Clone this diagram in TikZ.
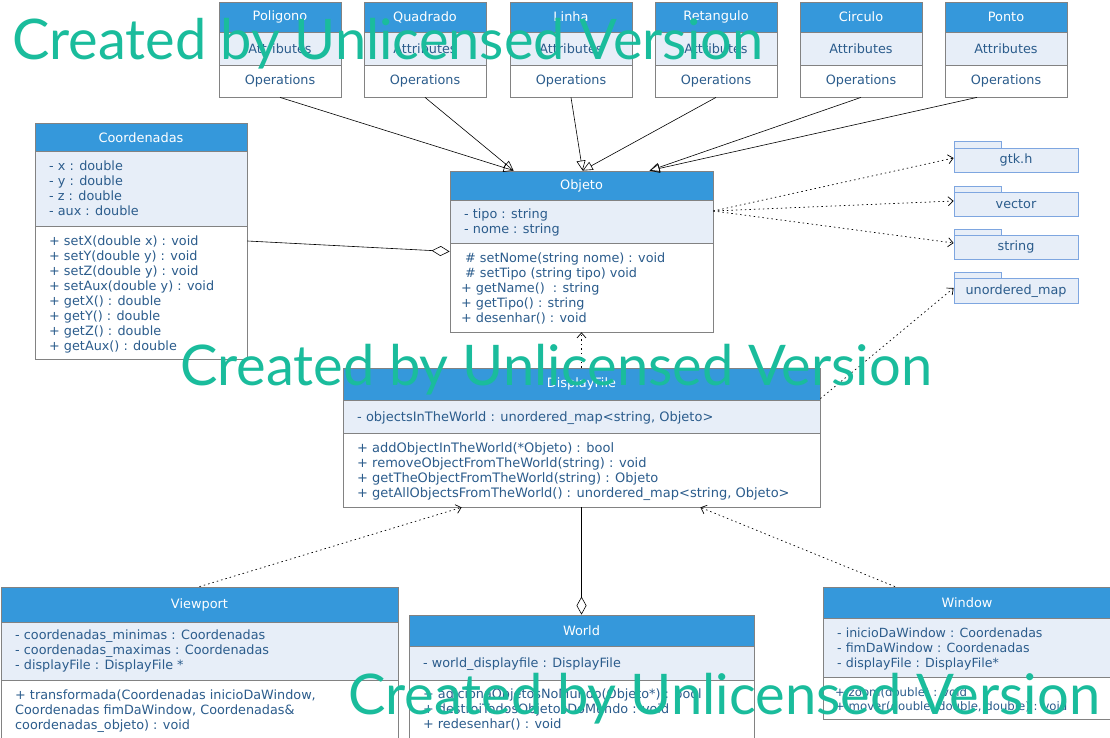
\documentclass[tikz,border=0pt]{standalone}
\usepackage{fontspec}
\setmainfont{DejaVu Sans}
\newfontfamily\wmfont{Lato}
\usepackage{graphicx}
\usetikzlibrary{arrows.meta,fit}
\definecolor{hdr}{HTML}{3598DB}
\definecolor{attrc}{HTML}{E7EEF8}
\definecolor{txtc}{HTML}{2B5C8C}
\definecolor{bordc}{HTML}{828282}
\definecolor{pkgc}{HTML}{7EA6E0}
\definecolor{wmc}{HTML}{1ABC9C}
\newcommand\fl{\rule{0pt}{10pt}}
\newcommand\umlbox[7]{%
  \fill[hdr] (#2,#3) rectangle (#4,#6);
  \fill[attrc] (#2,#6) rectangle (#4,#7);
  \fill[white] (#2,#7) rectangle (#4,#5);
  \draw[bordc, line width=0.8pt] (#2,#6) -- (#4,#6) (#2,#7) -- (#4,#7);
  \node[cls, fit={(#2,#3) (#4,#5)}] (#1) {};
}
\newcommand\pkgbox[4]{% name, tab top y, body top y, body bottom y
  \draw[pkg] (954,#2) rectangle (1001,#3);
  \node[pkg, fit={(954,#3) (1078,#4)}] (#1) {};
}
\tikzset{
  cls/.style={draw=bordc, line width=0.8pt, inner sep=0pt},
  pkg/.style={draw=pkgc, fill=attrc, line width=0.8pt, inner sep=0pt},
  ttl/.style={text=white, font=\fontsize{12.9}{15}\selectfont, inner sep=0pt},
  ctr/.style={text=txtc, font=\fontsize{12.8}{15}\selectfont, inner sep=0pt},
  txt/.style={text=txtc, font=\fontsize{12.8}{15}\selectfont, align=left, anchor=north west, inner sep=0pt},
  inh/.style={-{Triangle[open,length=10pt,width=9pt]}, line width=0.6pt},
  dep/.style={-{Straight Barb[length=5pt,width=9pt]}, dash pattern=on 1.5pt off 3pt, line width=0.7pt},
  agg/.style={-{Diamond[open,length=18pt,width=10pt]}, line width=0.6pt},
  wm/.style={text=wmc, inner sep=0pt, anchor=base west, font=\wmfont}
}
\begin{document}
\begin{tikzpicture}[x=1pt,y=-1pt]
\useasboundingbox[fill=white] (0,0) rectangle (1110,738);

% top row classes
\foreach \nm/\xa/\lbl in {poligono/219/Poligono, quadrado/364/Quadrado, linha/510/Linha, retangulo/655/Retangulo, circulo/800/Circulo, ponto/945/Ponto}{
  \pgfmathsetmacro\xb{\xa+122}
  \pgfmathsetmacro\xc{\xa+61}
  \umlbox{\nm}{\xa}{2}{\xb}{97}{32}{65}
  \node[ttl] (\nm-t) at (\xc,17) {\lbl};
  \node[ctr] (\nm-a) at (\xc,49) {Attributes};
  \node[ctr] (\nm-o) at (\xc,81) {Operations};
}

% Coordenadas
\umlbox{coord}{35}{123}{247}{359}{151}{226}
\node[ttl] (coord-t) at (141,138) {Coordenadas};
\node[txt] (coord-a) at (49,160.5) {\fl- x : double\\- y : double\\- z : double\\- aux : double};
\node[txt] (coord-o) at (49,235) {\fl+ setX(double x) : void\\+ setY(double y) : void\\+ setZ(double y) : void\\+ setAux(double y) : void\\+ getX() : double\\+ getY() : double\\+ getZ() : double\\+ getAux() : double};

% Objeto
\umlbox{objeto}{450}{171}{713}{332}{200}{243}
\node[ttl] (objeto-t) at (581.5,185.5) {Objeto};
\node[txt] (objeto-a) at (464,208.5) {\fl- tipo : string\\- nome : string};
\node[txt] (objeto-o) at (461,252) {\fl\hspace*{4pt}\# setNome(string nome) : void\\\hspace*{4pt}\# setTipo (string tipo) void\\+ getName()\ \ : string\\+ getTipo() : string\\+ desenhar() : void};

% packages
\pkgbox{gtk}{141}{148}{172}
\node[ctr] (gtk-t) at (1016,160) {gtk.h};
\pkgbox{vector}{186}{192}{216}
\node[ctr] (vector-t) at (1016,204) {vector};
\pkgbox{string}{229}{235}{259}
\node[ctr] (string-t) at (1016,247) {string};
\pkgbox{umap}{272}{278}{303}
\node[ctr] (umap-t) at (1016,291) {unordered\_map};

% DisplayFile
\umlbox{df}{343}{368}{820}{507}{400}{433}
\node[ttl] (df-t) at (581.5,384) {DisplayFile};
\node[txt, font=\fontsize{13}{15}\selectfont] (df-a) at (357,411) {\fl- objectsInTheWorld : unordered\_map<string, Objeto>};
\node[txt, font=\fontsize{13}{15}\selectfont] (df-o) at (357,442.3) {\fl+ addObjectInTheWorld(*Objeto) : bool\\+ removeObjectFromTheWorld(string) : void\\+ getTheObjectFromTheWorld(string) : Objeto\\+ getAllObjectsFromTheWorld() : unordered\_map<string, Objeto>};

% Viewport
\umlbox{viewport}{1}{587}{398}{760}{622}{680}
\node[ttl] (viewport-t) at (199.5,605) {Viewport};
\node[txt] (viewport-a) at (15,629.3) {\fl- coordenadas\_minimas : Coordenadas\\- coordenadas\_maximas : Coordenadas\\- displayFile : DisplayFile *};
\node[txt] (viewport-o) at (15,689) {\fl+ transformada(Coordenadas inicioDaWindow,\\Coordenadas fimDaWindow, Coordenadas\&\\coordenadas\_objeto) : void};

% World
\umlbox{world}{409}{615}{754}{760}{646}{680}
\node[ttl] (world-t) at (581.5,631) {World};
\node[txt] (world-a) at (423,657.3) {\fl- world\_displayfile : DisplayFile};
\node[txt] (world-o) at (423,688.3) {\fl+ adicionaObjetosNoMundo(Objeto*) : bool\\+ destroiTodosObjetosDoMundo : void\\+ redesenhar() : void};

% Window
\umlbox{window}{823}{587}{1111}{719}{618}{677}
\node[ttl] (window-t) at (967,603) {Window};
\node[txt, font=\fontsize{12.6}{15}\selectfont] (window-a) at (837,627.3) {\fl- inicioDaWindow : Coordenadas\\- fimDaWindow : Coordenadas\\- displayFile : DisplayFile*};
\node[txt, font=\fontsize{11.7}{14.3}\selectfont] (window-o) at (835,686) {\fl+ zoom(double) : void\\+ mover(double, double, double) : void};

% inheritance
\draw[inh] (poligono.south) -- ([xshift=64pt]objeto.north west);
\draw[inh] (quadrado.south) -- ([xshift=64pt]objeto.north west);
\draw[inh] (linha.south) -- ([xshift=133pt]objeto.north west);
\draw[inh] (retangulo.south) -- ([xshift=133pt]objeto.north west);
\draw[inh] (circulo.south) -- ([xshift=200pt]objeto.north west);
\draw[inh] ([xshift=-29pt]ponto.south) -- ([xshift=200pt]objeto.north west);

% aggregation
\draw[agg] (coord.east) -- (objeto.west);
\draw[agg] (df.south) -- (world.north);

% dependencies
\draw[dep] ([yshift=40.5pt]objeto.east) -- ([yshift=2pt]gtk.west);
\draw[dep] ([yshift=40.5pt]objeto.east) -- ([yshift=3pt]vector.west);
\draw[dep] ([yshift=40.5pt]objeto.east) -- ([yshift=4pt]string.west);
\draw[dep] ([yshift=-31pt]df.north east) -- ([yshift=2.5pt]umap.west);
\draw[dep] (df.north) -- (objeto.south);
\draw[dep] (viewport.north) -- ([xshift=119pt]df.south west);
\draw[dep] ([xshift=-72pt]window.north) -- ([xshift=-120pt]df.south east);

% watermark
\node[wm] (wm1) at (12,60) {\resizebox{751pt}{!}{Created by Unlicensed Version}};
\node[wm] (wm2) at (180,385) {\resizebox{752pt}{!}{Created by Unlicensed Version}};
\node[wm] (wm3) at (348,714) {\resizebox{752pt}{!}{Created by Unlicensed Version}};
\end{tikzpicture}
\end{document}
